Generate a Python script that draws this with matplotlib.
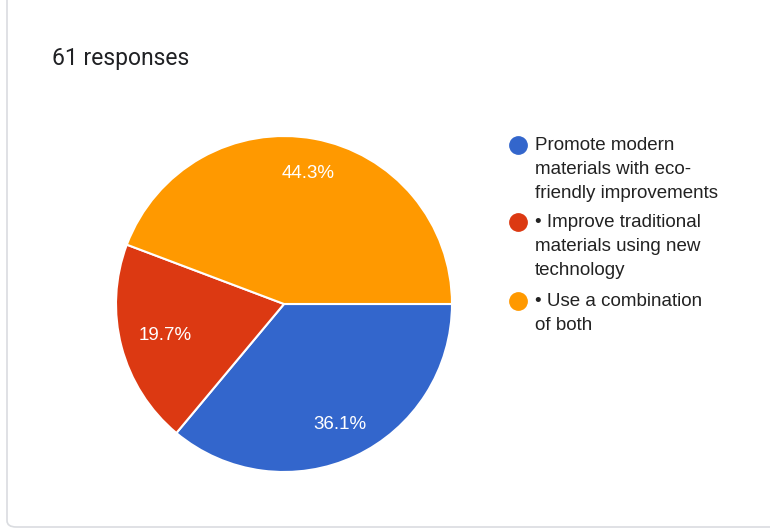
import numpy as np
import matplotlib.pyplot as plt
from matplotlib.patches import FancyBboxPatch
from matplotlib.lines import Line2D

# survey results
labels = ["Promote modern\nmaterials with eco-\nfriendly improvements",
          "\u2022 Improve traditional\nmaterials using new\ntechnology",
          "\u2022 Use a combination\nof both"]
shares = [36.1, 19.7, 44.3]
colors = ["#3366CC", "#DC3912", "#FF9900"]
title = "61 responses"

W, H = 770, 529
fig = plt.figure(figsize=(W / 100, H / 100), dpi=100)

# card outline (left and bottom edges visible)
card = FancyBboxPatch((7 / W, 1 - 527 / H), 900 / W, 600 / H,
                      boxstyle="round,pad=0,rounding_size=0.012",
                      transform=fig.transFigure, fill=False,
                      edgecolor="#dadce0", linewidth=1.2)
fig.add_artist(card)

fig.text(52 / W, 1 - 58 / H, title, fontsize=16.5, family="Roboto",
         color="#202124", va="center", ha="left")

# pie: centre (284, 304) px, radius 168 px
cx, cy, r = 284, 304, 168
ax = fig.add_axes([(cx - r) / W, (H - cy - r) / H, 2 * r / W, 2 * r / H])
wedges, texts, autotexts = ax.pie(
    shares, colors=colors, startangle=0, counterclock=False,
    autopct="%.1f%%", pctdistance=0.79,
    wedgeprops=dict(edgecolor="white", linewidth=1.5),
    textprops=dict(color="white", fontsize=13.5, family="Liberation Sans"))
# the small slice label sits a little closer to the centre
w = wedges[1]
mid = np.deg2rad((w.theta1 + w.theta2) / 2)
autotexts[1].set_position((0.73 * np.cos(mid), 0.73 * np.sin(mid)))
ax.set_xlim(-1, 1)
ax.set_ylim(-1, 1)
ax.set_aspect("auto")
ax.axis("off")

# legend drawn by hand
ys = [145, 222, 301]
for lab, col, y in zip(labels, colors, ys):
    fig.add_artist(Line2D([518 / W], [1 - y / H], marker="o", markersize=12.5,
                          color=col, transform=fig.transFigure))
    fig.text(535 / W, 1 - (y - 8) / H, lab, fontsize=13.5,
             family="Liberation Sans", color="#222222", va="top", ha="left",
             linespacing=1.55)

fig.savefig("out.png", dpi=100, facecolor="white")
